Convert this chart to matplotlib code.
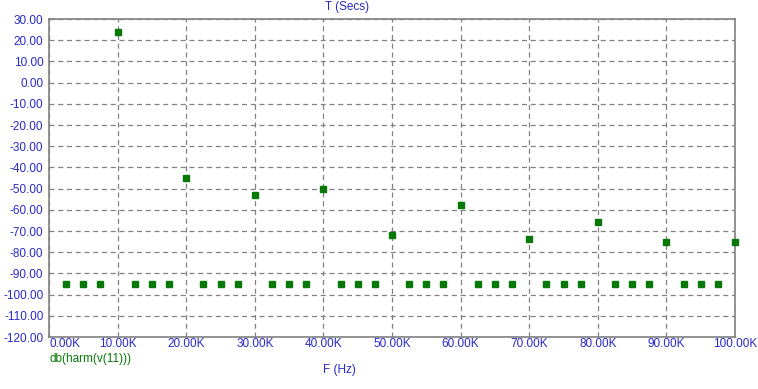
import numpy as np
import matplotlib.pyplot as plt

plt.rcParams['font.family'] = ['Liberation Sans', 'DejaVu Sans']

# harmonic frequencies (kHz) and levels (dB)
freq_k = [2.5, 5, 7.5, 10, 12.5, 15, 17.5, 20, 22.5, 25, 27.5, 30, 32.5, 35, 37.5, 40,
          42.5, 45, 47.5, 50, 52.5, 55, 57.5, 60, 62.5, 65, 67.5, 70, 72.5, 75, 77.5, 80,
          82.5, 85, 87.5, 90, 92.5, 95, 97.5, 100]
level_db = [-95, -95, -95, 24.1, -95, -95, -95, -44.9, -95, -95, -95, -52.9, -95, -95, -95, -50.1,
            -95, -95, -95, -71.8, -95, -95, -95, -57.6, -95, -95, -95, -73.7, -95, -95, -95, -65.6,
            -95, -95, -95, -75.1, -95, -95, -95, -75.1]
xticks_k = np.arange(0, 101, 10)
yticks = np.arange(-120, 31, 10)

blue = '#2828c8'
green = '#087808'

fig = plt.figure(figsize=(7.58, 3.89), dpi=100)
ax = fig.add_axes([49 / 758, 1 - 337 / 389, 686 / 758, 318 / 389])

ax.plot(freq_k, level_db, linestyle='none', marker='s', markersize=4.6,
        color=green, clip_on=False, zorder=3)

ax.set_xlim(0, 100)
ax.set_ylim(-120, 30)
ax.set_xticks(xticks_k)
ax.set_xticklabels(['%.2fK' % v for v in xticks_k])
ax.set_yticks(yticks)
ax.set_yticklabels(['%.2f' % v for v in yticks])
ax.get_xticklabels()[0].set_horizontalalignment('left')

ax.tick_params(length=0, labelsize=8.5, labelcolor=blue)
ax.tick_params(axis='x', pad=1)
ax.tick_params(axis='y', pad=4)
ax.grid(True, linestyle=(0, (4, 3)), color='#808080', linewidth=0.9)
for s in ax.spines.values():
    s.set_color('#808080')
    s.set_linewidth(1.2)

fig.text(347 / 758, 1 - 7 / 389, 'T (Secs)', color=blue, fontsize=8.5, ha='center', va='center')
fig.text(339 / 758, 1 - 370 / 389, 'F (Hz)', color=blue, fontsize=8.5, ha='center', va='center')
fig.text(49 / 758, 1 - 359 / 389, 'db(harm(v(11)))', color=green, fontsize=8.5, ha='left', va='center')

fig.savefig('out.png', dpi=100)
